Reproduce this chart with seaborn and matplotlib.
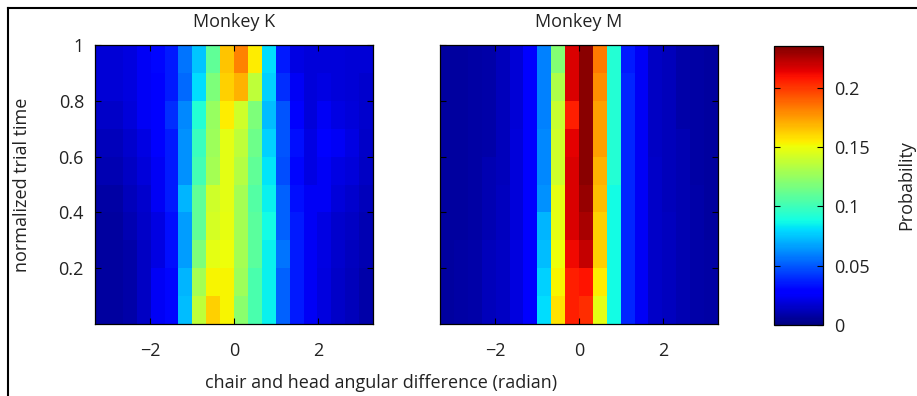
import numpy as np
import pandas as pd
import matplotlib
matplotlib.use("Agg")
import matplotlib.pyplot as plt
import seaborn as sns
from matplotlib.lines import Line2D

# ---------------- data ----------------
# angle bin centres (radian), 20 bins from -pi to pi
angle_centers = np.linspace(-np.pi, np.pi, 20)
# normalized trial time bins, listed top (late) to bottom (early)
time_labels = [0.95, 0.85, 0.75, 0.65, 0.55, 0.45, 0.35, 0.25, 0.15, 0.05]

monkey_k = [
    [.018,.018,.020,.024,.031,.035,.056,.075,.110,.165,.181,.155,.080,.035,.021,.019,.019,.019,.018,.018],
    [.018,.018,.020,.024,.028,.035,.054,.080,.118,.162,.169,.136,.078,.040,.024,.019,.021,.019,.018,.016],
    [.015,.015,.019,.024,.028,.040,.061,.092,.125,.155,.141,.118,.073,.049,.028,.019,.024,.021,.019,.016],
    [.012,.012,.016,.021,.026,.035,.063,.099,.127,.147,.136,.113,.078,.049,.033,.021,.026,.024,.021,.015],
    [.011,.011,.014,.019,.024,.035,.063,.101,.129,.147,.134,.110,.082,.047,.031,.021,.024,.021,.019,.014],
    [.008,.008,.012,.016,.024,.035,.071,.110,.141,.147,.129,.106,.085,.052,.033,.024,.024,.019,.016,.012],
    [.007,.007,.011,.015,.021,.033,.066,.110,.143,.148,.129,.108,.088,.052,.035,.024,.021,.016,.014,.011],
    [.007,.007,.009,.014,.021,.033,.066,.118,.147,.150,.129,.108,.085,.056,.035,.024,.021,.016,.013,.011],
    [.007,.007,.009,.014,.024,.031,.071,.129,.153,.153,.127,.103,.085,.052,.035,.024,.020,.015,.012,.009],
    [.007,.007,.009,.014,.024,.031,.073,.136,.162,.153,.122,.103,.085,.052,.035,.024,.020,.015,.012,.009],
]

monkey_m = [
    [.007,.007,.008,.009,.012,.018,.026,.059,.120,.216,.233,.183,.092,.035,.024,.014,.012,.009,.008,.007],
    [.007,.007,.008,.009,.012,.018,.026,.059,.132,.216,.233,.179,.092,.038,.024,.014,.012,.009,.008,.007],
    [.007,.007,.008,.009,.012,.018,.026,.059,.139,.206,.233,.174,.092,.038,.024,.014,.012,.009,.008,.007],
    [.007,.007,.008,.009,.012,.019,.026,.061,.141,.214,.233,.174,.092,.038,.024,.014,.012,.011,.008,.007],
    [.007,.007,.008,.011,.012,.019,.027,.061,.141,.216,.233,.169,.092,.038,.024,.015,.012,.011,.008,.007],
    [.007,.007,.008,.011,.013,.019,.027,.063,.147,.216,.230,.167,.088,.038,.024,.015,.012,.011,.009,.007],
    [.007,.007,.008,.011,.013,.019,.028,.071,.147,.216,.226,.162,.088,.038,.024,.015,.013,.011,.009,.007],
    [.007,.008,.009,.012,.014,.020,.028,.073,.150,.212,.221,.162,.088,.038,.024,.015,.013,.011,.009,.008],
    [.007,.008,.009,.012,.014,.020,.028,.078,.153,.206,.209,.155,.088,.038,.024,.015,.013,.011,.009,.008],
    [.007,.008,.009,.012,.014,.020,.028,.080,.157,.206,.202,.147,.088,.038,.024,.015,.013,.011,.009,.008],
]

titles = ["Monkey K", "Monkey M"]
x_ticks = [-2, 0, 2]
x_ticklabels = ["\u22122", "0", "2"]
y_ticks = [0.2, 0.4, 0.6, 0.8, 1.0]
y_ticklabels = ["0.2", "0.4", "0.6", "0.8", "1"]
cbar_ticks = [0, 0.05, 0.1, 0.15, 0.2]
cbar_ticklabels = ["0", "0.05", "0.1", "0.15", "0.2"]
vmin, vmax = 0.0, 0.235

# ---------------- style ----------------
plt.rcParams["font.family"] = ["Open Sans", "DejaVu Sans"]
FS = 13
TXT = "#222222"

W, H = 917, 396
fig = plt.figure(figsize=(W / 100, H / 100), dpi=100)
fig.patch.set_facecolor("white")

def fx(px):
    return px / W

def fy(py):
    return 1 - py / H

panels = [(95, 45, 373, 324), (440, 45, 718, 324)]
axes = []
for (x0, y0, x1, y1) in panels:
    axes.append(fig.add_axes([fx(x0), fy(y1), fx(x1 - x0), (y1 - y0) / H]))

cell_pos_x = np.arange(len(angle_centers)) + 0.5
for i, (ax, data, title) in enumerate(zip(axes, [monkey_k, monkey_m], titles)):
    df = pd.DataFrame(data, index=time_labels, columns=np.round(angle_centers, 3))
    sns.heatmap(df, ax=ax, cmap="jet", vmin=vmin, vmax=vmax, cbar=False,
                xticklabels=False, yticklabels=False)
    for s in ax.spines.values():
        s.set_visible(True)
        s.set_color("black")
        s.set_linewidth(0.9)
    ax.set_xticks(np.interp(x_ticks, angle_centers, cell_pos_x))
    ax.set_xticklabels(x_ticklabels, fontsize=FS)
    ypos = np.interp(y_ticks, [0, 1], [len(time_labels), 0])
    ax.set_yticks(ypos)
    if i == 0:
        ax.set_yticklabels(y_ticklabels, fontsize=FS)
    else:
        ax.set_yticklabels([])
    ax.tick_params(axis="x", direction="in", length=4, width=0.8, top=True,
                   pad=13, colors="black", labelcolor=TXT)
    ax.tick_params(axis="y", direction="in", length=4, width=0.8, right=True,
                   pad=8, colors="black", labelcolor=TXT)
    ax.set_xlabel("")
    ax.set_ylabel("")
    ax.set_title(title, fontsize=FS, pad=13, color=TXT)

axes[0].set_ylabel("normalized trial time", fontsize=FS, color=TXT, labelpad=20)
fig.text(fx(381), fy(383), "chair and head angular difference (radian)",
         ha="center", va="center", fontsize=FS, color=TXT)

# colorbar
cax = fig.add_axes([fx(774), fy(325), fx(823 - 774), (325 - 46) / H])
cb = fig.colorbar(axes[1].collections[0], cax=cax)
cb.set_ticks(cbar_ticks)
cb.set_ticklabels(cbar_ticklabels)
cb.outline.set_edgecolor("black")
cb.outline.set_linewidth(0.9)
cax.tick_params(direction="in", length=4, width=0.8, left=True, right=True,
                labelsize=FS, pad=8, labelcolor=TXT)
cb.set_label("Probability", fontsize=FS, color=TXT, labelpad=20)

# figure frame (top and left border)
fig.add_artist(Line2D([fx(8), 1], [fy(8), fy(8)], transform=fig.transFigure,
                      color="black", lw=1.5))
fig.add_artist(Line2D([fx(8), fx(8)], [0, fy(8)], transform=fig.transFigure,
                      color="black", lw=1.5))

fig.savefig("out.png", dpi=100)
